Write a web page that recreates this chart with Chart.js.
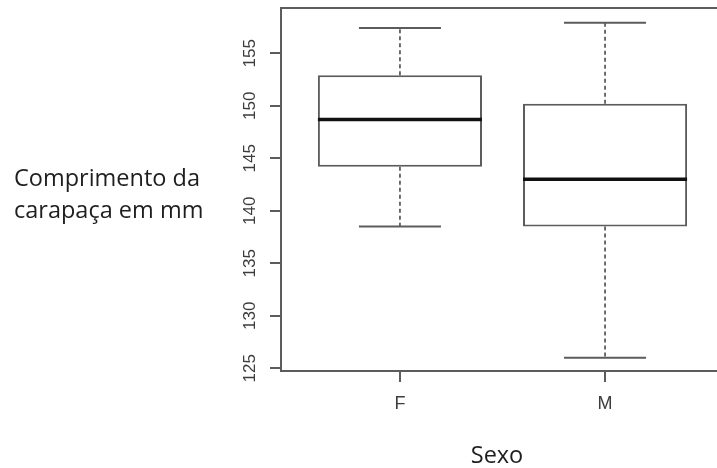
<!DOCTYPE html>
<html>
<head>
<meta charset="utf-8">
<script src="https://cdn.jsdelivr.net/npm/chart.js@4.4.1/dist/chart.umd.min.js"></script>
<style>
  html, body { margin: 0; padding: 0; background: #fff; overflow: hidden; }
  #wrap { position: relative; width: 730px; height: 468px; }
</style>
</head>
<body>
<div id="wrap"><canvas id="chart" width="730" height="468"></canvas></div>
<script>
// Carapace length (mm) by sex: five-number summaries for each group
const categories   = ['F', 'M'];
const whiskerLow   = [138.5, 126.0];
const lowerQuart   = [144.2, 138.5];
const medians      = [148.7, 143.0];
const upperQuart   = [152.9, 150.2];
const whiskerHigh  = [157.4, 157.9];
const yTickValues  = [125, 130, 135, 140, 145, 150, 155];

const yTitleLines = ['Comprimento da', 'carapaça em mm'];
const xTitle = 'Sexo';

const LINE = '#5c5c5c';
const TEXT = '#3c3c3c';
const TITLE_FONT = '"Open Sans", "Noto Sans", sans-serif';
const TICK_FONT = '"Liberation Sans", Arial, sans-serif';

// Whiskers, caps, medians, plot frame, rotated y labels and axis titles
const boxExtras = {
  id: 'boxExtras',
  afterDatasetsDraw(chart) {
    const { ctx, chartArea, scales: { x, y } } = chart;
    const meta = chart.getDatasetMeta(0);
    ctx.save();
    categories.forEach((c, i) => {
      const bar = meta.data[i];
      const cx = x.getPixelForValue(i + 1);
      const half = bar.width / 2;
      const capHalf = half / 2;
      const yLo = y.getPixelForValue(whiskerLow[i]);
      const yQ1 = y.getPixelForValue(lowerQuart[i]);
      const yQ3 = y.getPixelForValue(upperQuart[i]);
      const yHi = y.getPixelForValue(whiskerHigh[i]);
      const yMed = y.getPixelForValue(medians[i]);

      // dashed whiskers
      ctx.strokeStyle = '#4a4a4a';
      ctx.lineWidth = 1.6;
      ctx.setLineDash([4, 3]);
      ctx.beginPath();
      ctx.moveTo(cx, yQ1); ctx.lineTo(cx, yLo);
      ctx.moveTo(cx, yQ3); ctx.lineTo(cx, yHi);
      ctx.stroke();
      ctx.setLineDash([]);

      // whisker caps
      ctx.strokeStyle = LINE;
      ctx.lineWidth = 2;
      ctx.beginPath();
      ctx.moveTo(cx - capHalf, yLo); ctx.lineTo(cx + capHalf, yLo);
      ctx.moveTo(cx - capHalf, yHi); ctx.lineTo(cx + capHalf, yHi);
      ctx.stroke();

      // median
      ctx.strokeStyle = '#111';
      ctx.lineWidth = 3.5;
      ctx.beginPath();
      ctx.moveTo(cx - half, yMed); ctx.lineTo(cx + half, yMed);
      ctx.stroke();
    });

    // frame around the plotting region
    ctx.strokeStyle = LINE;
    ctx.lineWidth = 2;
    ctx.strokeRect(chartArea.left, chartArea.top,
                   chartArea.right - chartArea.left, chartArea.bottom - chartArea.top);

    // y tick labels, written bottom-to-top
    ctx.fillStyle = TEXT;
    ctx.font = '17px ' + TICK_FONT;
    ctx.textAlign = 'center';
    ctx.textBaseline = 'alphabetic';
    yTickValues.forEach(v => {
      const py = y.getPixelForValue(v);
      ctx.save();
      ctx.translate(chartArea.left - 26, py);
      ctx.rotate(-Math.PI / 2);
      ctx.fillText(String(v), 0, 0);
      ctx.restore();
    });

    // axis titles
    ctx.fillStyle = '#1e1e1e';
    ctx.font = '23.5px ' + TITLE_FONT;
    ctx.textAlign = 'left';
    yTitleLines.forEach((t, k) => ctx.fillText(t, 14, 186 + k * 32));
    ctx.textAlign = 'center';
    ctx.fillText(xTitle, 497, 463);
    ctx.restore();
  }
};

new Chart(document.getElementById('chart'), {
  type: 'bar',
  data: {
    datasets: [{
      data: categories.map((c, i) => ({ x: i + 1, y: [lowerQuart[i], upperQuart[i]] })),
      backgroundColor: '#ffffff',
      borderColor: LINE,
      borderWidth: 2,
      borderSkipped: false,
      categoryPercentage: 0.8,
      barPercentage: 1.0
    }]
  },
  options: {
    responsive: false,
    animation: false,
    events: [],
    layout: { padding: { top: 8, right: 6, left: 0, bottom: 0 } },
    plugins: { legend: { display: false }, tooltip: { enabled: false } },
    scales: {
      x: {
        type: 'linear',
        offset: false,
        min: 0.42,
        max: 2.58,
        afterBuildTicks: s => { s.ticks = categories.map((c, i) => ({ value: i + 1 })); },
        afterFit: s => { s.height = 97; },
        ticks: {
          callback: v => categories[v - 1],
          font: { size: 18, family: TICK_FONT },
          color: TEXT,
          padding: 11,
          maxRotation: 0
        },
        grid: { offset: false, drawOnChartArea: false, drawTicks: true, tickLength: 11, color: LINE, lineWidth: 2 },
        border: { display: true, color: LINE, width: 2 }
      },
      y: {
        min: 124.74,
        max: 159.31,
        afterBuildTicks: s => { s.ticks = yTickValues.map(v => ({ value: v })); },
        afterFit: s => { s.width = 281; },
        ticks: { display: false },
        grid: { drawOnChartArea: false, drawTicks: true, tickLength: 11, color: LINE, lineWidth: 2 },
        border: { display: true, color: LINE, width: 2 }
      }
    }
  },
  plugins: [boxExtras]
});
</script>
</body>
</html>
